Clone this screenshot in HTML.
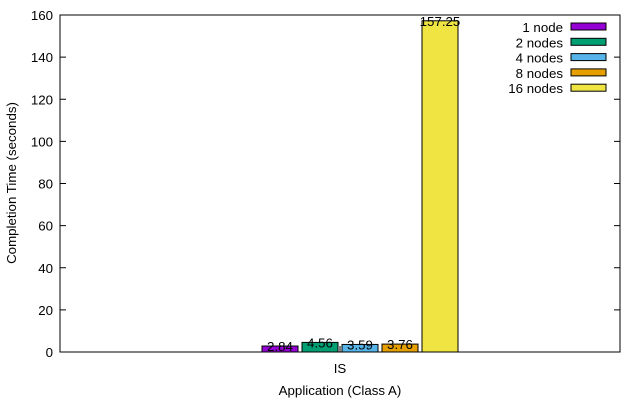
<!DOCTYPE html>
<html><head><meta charset="utf-8"><style>body{margin:0;background:#fff}svg{display:block;font-family:"Liberation Sans",sans-serif}</style></head>
<body>
<svg width="640" height="400">
<g id="axes"></g><g id="bars"></g><g id="legend"></g>
<rect x="60" y="15" width="560" height="337" fill="none" stroke="#000" stroke-width="1"/>
<text x="16" y="183" font-size="13.3" text-anchor="middle" transform="rotate(-90 16 183)">Completion Time (seconds)</text>
<text x="340" y="395" font-size="13.3" text-anchor="middle">Application (Class A)</text>
<text x="340" y="373" font-size="13.3" text-anchor="middle">IS</text>
</svg>
<script>
const series=["1 node","2 nodes","4 nodes","8 nodes","16 nodes"];
const values=[2.84,4.56,3.59,3.76,157.25];
const labels=["2.84","4.56","3.59","3.76","157.25"];
const colors=["#9400d3","#009e73","#56b4e9","#e69f00","#f0e442"];
const yTicks=[0,20,40,60,80,100,120,140,160];
const NS="http://www.w3.org/2000/svg";
const y=v=>352-v*(337/160);
function mk(tag,attrs,parent){const e=document.createElementNS(NS,tag);for(const k in attrs)e.setAttribute(k,attrs[k]);document.getElementById(parent).appendChild(e);return e;}
yTicks.forEach(t=>{
 const l1=mk('line',{x1:60,x2:66,y1:y(t),y2:y(t),stroke:'#000'},'axes');
 
 
 const l2=mk('line',{x1:614,x2:620,y1:y(t),y2:y(t),stroke:'#000'},'axes');
 
 
 const tx=mk('text',{x:53,y:y(t)+5,'font-size':13.3,'text-anchor':'end'},'axes');tx.textContent=t;
 
 
});
const xt=mk('line',{x1:340,x2:340,y1:352,y2:346,stroke:'#000'},'axes');


values.forEach((v,i)=>{
 const x0=262+i*40;
 const r=mk('rect',{x:x0,y:y(v),width:36,height:352-y(v),fill:colors[i],stroke:'#000'},'bars');
 
 
 const t=mk('text',{x:x0+18,y:y(v)+5,'font-size':13.3,'text-anchor':'middle'},'bars');t.textContent=labels[i];
 
 
 const ly=27+i*15.3;
 const lt=mk('text',{x:563,y:ly+5,'font-size':13.3,'text-anchor':'end'},'legend');lt.textContent=series[i];
 
 
 const lr=mk('rect',{x:571,y:ly-4,width:35,height:7,fill:colors[i],stroke:'#000'},'legend');
 
 
});
</script>
</body></html>
